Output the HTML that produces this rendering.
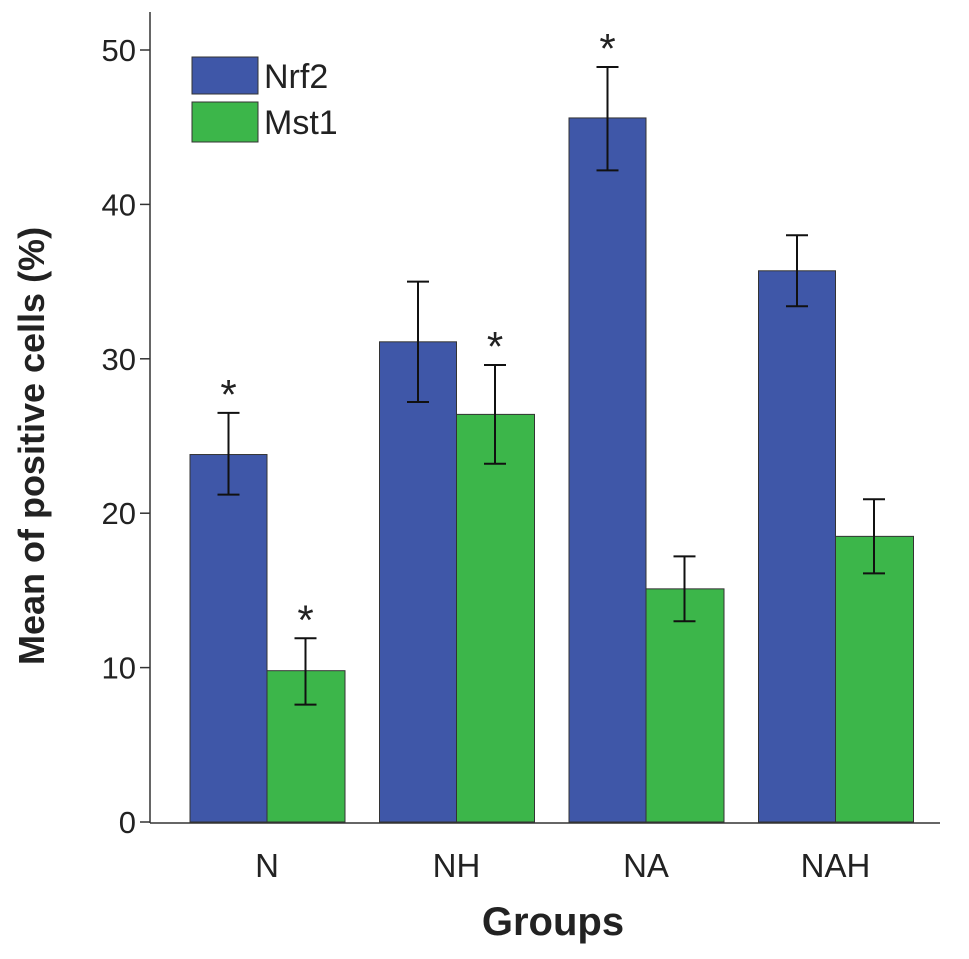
<!DOCTYPE html>
<html><head><meta charset="utf-8"><style>
html,body{margin:0;padding:0;background:#fff;}
svg{display:block;font-family:"Liberation Sans",Arial,sans-serif;}
</style></head><body>
<svg id="chart" width="969" height="959">
<g id="plot"></g>
</svg>
<script>
const categories=["N","NH","NA","NAH"];
const nrf2=[23.8,31.1,45.6,35.7];
const nrf2Lo=[21.2,27.2,42.2,33.4];
const nrf2Hi=[26.5,35.0,48.9,38.0];
const mst1=[9.8,26.4,15.1,18.5];
const mst1Lo=[7.6,23.2,13.0,16.1];
const mst1Hi=[11.9,29.6,17.2,20.9];
const nrf2Star=[true,false,true,false];
const mst1Star=[true,true,false,false];
const yTicks=[0,10,20,30,40,50];

const NS="http://www.w3.org/2000/svg";
const g=document.getElementById('plot');
const y0=822,pxPer=15.44;
function y(v){return y0-v*pxPer;}
function x(i){return 190+i*189.5;}
const bw=77;
function mk(t,a,txt){const e=document.createElementNS(NS,t);for(const k in a)e.setAttribute(k,a[k]);if(txt!==undefined)e.textContent=txt;g.appendChild(e);return e;}

let ax=mk('line',{x1:150,y1:12,x2:150,y2:823,stroke:'#333','stroke-width':1.5});


ax=mk('line',{x1:150,y1:823,x2:940,y2:823,stroke:'#333','stroke-width':1.5});



yTicks.forEach(v=>{
 const t=mk('line',{x1:140,y1:y(v),x2:150,y2:y(v),stroke:'#333','stroke-width':1.5});
 
 
 const l=mk('text',{x:136,y:y(v)+11,'text-anchor':'end','font-size':31,fill:'#222'},v);
 
 
});

function errbar(cx,lo,hi){
 mk('line',{x1:cx,y1:y(lo),x2:cx,y2:y(hi),stroke:'#111','stroke-width':2});
 mk('line',{x1:cx-11,y1:y(lo),x2:cx+11,y2:y(lo),stroke:'#111','stroke-width':2});
 mk('line',{x1:cx-11,y1:y(hi),x2:cx+11,y2:y(hi),stroke:'#111','stroke-width':2});
}
function star(cx,hi){
 const s=mk('text',{x:cx,y:y(hi)-4,'text-anchor':'middle','font-size':42,fill:'#222'},'*');
 
 
}
categories.forEach((c,i)=>{
 const bx=x(i);
 let r=mk('rect',{x:bx,y:y(nrf2[i]),width:bw,height:y(0)-y(nrf2[i]),fill:'#3f57a8',stroke:'#333','stroke-width':1});
 
 
 r=mk('rect',{x:bx+bw,y:y(mst1[i]),width:bw+1,height:y(0)-y(mst1[i]),fill:'#3cb64a',stroke:'#333','stroke-width':1});
 
 
 errbar(bx+bw/2,nrf2Lo[i],nrf2Hi[i]);
 errbar(bx+bw*1.5,mst1Lo[i],mst1Hi[i]);
 if(nrf2Star[i])star(bx+bw/2,nrf2Hi[i]);
 if(mst1Star[i])star(bx+bw*1.5,mst1Hi[i]);
 const l=mk('text',{x:bx+bw,y:877,'text-anchor':'middle','font-size':33,fill:'#222'},c);
 
 
});

let t=mk('text',{x:553,y:935,'text-anchor':'middle','font-size':40,'font-weight':'bold',fill:'#222'},'Groups');


t=mk('text',{x:0,y:0,'text-anchor':'middle','font-size':36,'font-weight':'bold',fill:'#222',transform:'translate(44,446) rotate(-90)'},'Mean of positive cells  (%)');



let lr=mk('rect',{x:192,y:57,width:66,height:37,fill:'#3f57a8',stroke:'#333','stroke-width':1});


lr=mk('rect',{x:192,y:102,width:66,height:40,fill:'#3cb64a',stroke:'#333','stroke-width':1});


t=mk('text',{x:264,y:88,'font-size':34,fill:'#222'},'Nrf2');


t=mk('text',{x:264,y:134,'font-size':34,fill:'#222'},'Mst1');


</script>
</body></html>
